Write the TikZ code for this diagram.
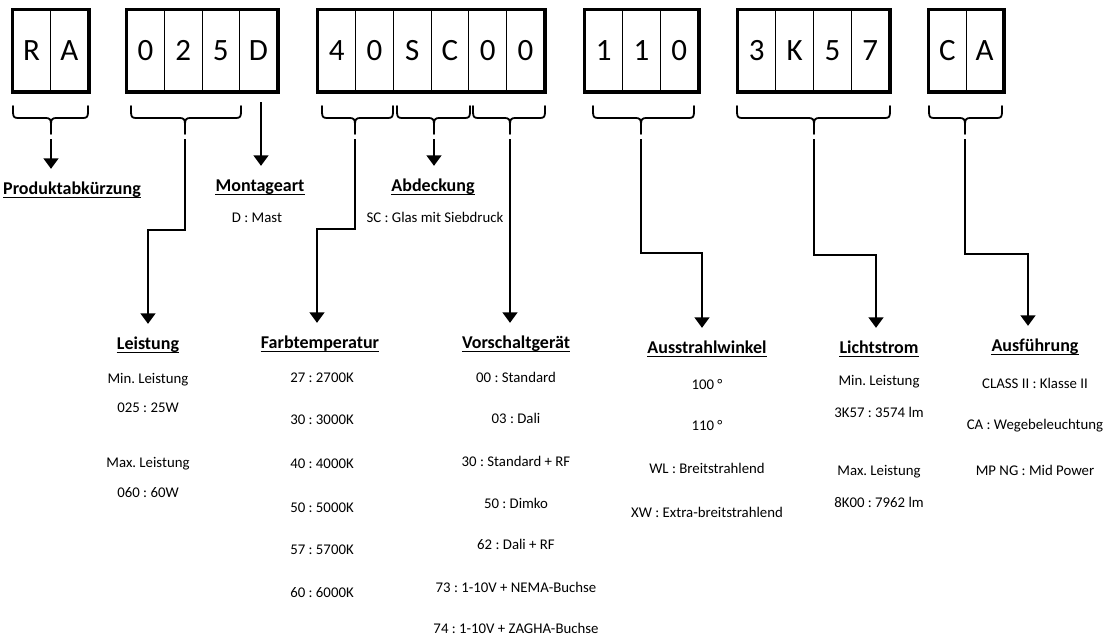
\documentclass[tikz,border=0pt]{standalone}
\usepackage{fontspec}
\setmainfont{Carlito}
\usetikzlibrary{arrows.meta}
\frenchspacing
\newcommand\codebox[5]{%
  \pgfmathsetmacro\cw{(#3-#2-3.5)/#4}%
  \foreach \ch [count=\i] in {#5}{%
    \node[codecell,minimum width=\cw pt] (#1\i) at ({#2+1.75+(\i-0.5)*\cw},50.5) {\ch};}%
  \draw[boxframe] (#11.north west) rectangle (#1#4.south east);}
\newcommand\bracedraw[3]{%
  \draw[brc] (#1,106) -- (#1,112) .. controls (#1,116.5) and ({#1+1},118) .. ({#1+5},118) -- ({#3-5},118) .. controls ({#3-1},118) and (#3,120) .. (#3,124) -- (#3,134);
  \draw[brc] (#2,106) -- (#2,112) .. controls (#2,116.5) and ({#2-1},118) .. ({#2-5},118) -- ({#3+5},118) .. controls ({#3+1},118) and (#3,120) .. (#3,124);}
\begin{document}
\begin{tikzpicture}[x=1pt,y=-1pt,
  codecell/.style={draw,line width=1pt,inner sep=0pt,minimum height=81.5pt,text height=19.6pt,text depth=0pt,font=\fontsize{31}{31}\selectfont},
  boxframe/.style={line width=3.5pt},
  brc/.style={line width=1.8pt,line cap=round},
  arr/.style={line width=1.5pt,-{Triangle[width=15pt,length=10.5pt]},shorten >=13pt},
  headtxt/.style={inner sep=0pt,anchor=base,text height=12pt,font=\bfseries\fontsize{18}{18}\selectfont\frenchspacing},
  bodytxt/.style={inner sep=0pt,anchor=base,font=\fontsize{14.8}{16}\selectfont\frenchspacing},
  ulline/.style={line width=1.5pt}]
\useasboundingbox[fill=white] (0,0) rectangle (1108,638);

% code boxes
\codebox{ra}{11}{90}{2}{R,A}
\codebox{pw}{125}{279}{4}{0,2,5,D}
\codebox{mid}{316}{546}{6}{4,0,S,C,0,0}
\codebox{ang}{583}{700}{3}{1,1,0}
\codebox{lm}{736}{891}{4}{3,K,5,7}
\codebox{ca}{927}{1005}{2}{C,A}

% braces
\bracedraw{13}{88}{51}
\bracedraw{131}{241}{185}
\bracedraw{322}{393}{355}
\bracedraw{397}{470}{434}
\bracedraw{473}{545}{510}
\bracedraw{593}{694}{641}
\bracedraw{737}{890}{814}
\bracedraw{929}{1002}{965}

% connector start points
\coordinate (sRA) at (51,139);
\coordinate (sD) at (261,102);
\coordinate (s025) at (185,139);
\coordinate (s40) at (355,139);
\coordinate (sSC) at (434,139);
\coordinate (s00) at (510,139);
\coordinate (s110) at (641,139);
\coordinate (s3K) at (814,139);
\coordinate (sCA) at (965,139);
\coordinate (k025) at (148,230);
\coordinate (k40) at (317,229);
\coordinate (k110) at (702,253);
\coordinate (k3K) at (876,255);
\coordinate (kCA) at (1028,254);

% headings
\node[headtxt] (hProd) at (72,194) {Produktabkürzung};
\node[headtxt] (hMont) at (260,191) {Montageart};
\node[headtxt] (hAbd) at (433,191) {Abdeckung};
\node[headtxt] (hLeist) at (148,349) {Leistung};
\node[headtxt] (hFarb) at (320,348) {Farbtemperatur};
\node[headtxt] (hVor) at (516,348) {Vorschaltgerät};
\node[headtxt] (hAus) at (707,353) {Ausstrahlwinkel};
\node[headtxt] (hLicht) at (879,353) {Lichtstrom};
\node[headtxt] (hAusf) at (1035,351) {Ausführung};
\foreach \h in {hProd,hMont,hAbd,hLeist,hFarb,hVor,hAus,hLicht,hAusf}
  \draw[ulline] ([yshift=-3.5pt]\h.base west) -- ([yshift=-3.5pt]\h.base east);

% connectors
\draw[arr] (sRA) -- (sRA |- hProd.north);
\draw[arr] (sD) -- (sD |- hMont.north);
\draw[arr] (sSC) -- (sSC |- hAbd.north);
\draw[arr] (s025) |- (k025) -- (k025 |- hLeist.north);
\draw[arr] (s40) |- (k40) -- (k40 |- hFarb.north);
\draw[arr] (s00) -- (s00 |- hVor.north);
\draw[arr] (s110) |- (k110) -- (k110 |- hAus.north);
\draw[arr] (s3K) |- (k3K) -- (k3K |- hLicht.north);
\draw[arr] (sCA) |- (kCA) -- (kCA |- hAusf.north);

% texts
\node[bodytxt] (tM) at (257,222) {D : Mast};
\node[bodytxt] (tS) at (435,222) {SC : Glas mit Siebdruck};

\node[bodytxt] (l1) at (148,383) {Min. Leistung};
\node[bodytxt] (l2) at (148,412) {025 : 25W};
\node[bodytxt] (l3) at (148,467) {Max. Leistung};
\node[bodytxt] (l4) at (148,497) {060 : 60W};

\node[bodytxt] (f1) at (322,382) {27 : 2700K};
\node[bodytxt] (f2) at (322,424) {30 : 3000K};
\node[bodytxt] (f3) at (322,468) {40 : 4000K};
\node[bodytxt] (f4) at (322,512) {50 : 5000K};
\node[bodytxt] (f5) at (322,554) {57 : 5700K};
\node[bodytxt] (f6) at (322,597) {60 : 6000K};

\node[bodytxt] (v1) at (516,382) {00 : Standard};
\node[bodytxt] (v2) at (516,423) {03 : Dali};
\node[bodytxt] (v3) at (516,466) {30 : Standard + RF};
\node[bodytxt] (v4) at (516,508) {50 : Dimko};
\node[bodytxt] (v5) at (516,549) {62 : Dali + RF};
\node[bodytxt] (v6) at (516,592) {73 : 1-10V + NEMA-Buchse};
\node[bodytxt] (v7) at (516,633) {74 : 1-10V + ZAGHA-Buchse};

\node[bodytxt] (a1) at (707,389) {100 °};
\node[bodytxt] (a2) at (707,430) {110 °};
\node[bodytxt] (a3) at (707,473) {WL : Breitstrahlend};
\node[bodytxt] (a4) at (707,517) {XW : Extra-breitstrahlend};

\node[bodytxt] (m1) at (879,385) {Min. Leistung};
\node[bodytxt] (m2) at (879,417) {3K57 : 3574 lm};
\node[bodytxt] (m3) at (879,475) {Max. Leistung};
\node[bodytxt] (m4) at (879,507) {8K00 : 7962 lm};

\node[bodytxt] (x1) at (1035,388) {CLASS II : Klasse II};
\node[bodytxt] (x2) at (1035,429) {CA : Wegebeleuchtung};
\node[bodytxt] (x3) at (1035,475) {MP NG : Mid Power};
\end{tikzpicture}
\end{document}
